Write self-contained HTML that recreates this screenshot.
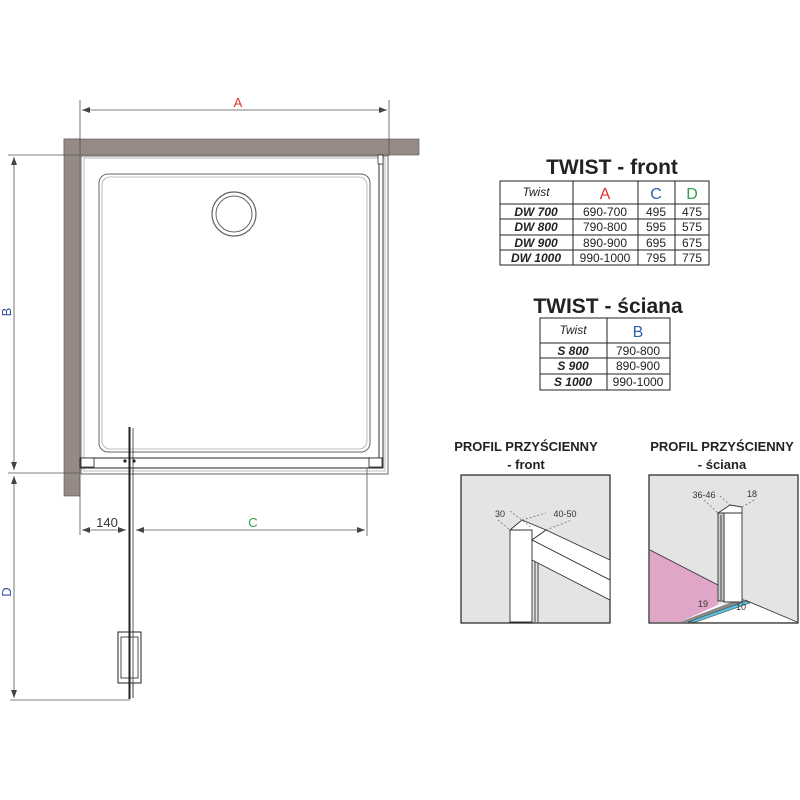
<!DOCTYPE html>
<html><head><meta charset="utf-8"><style>
body{margin:0;background:#fff;width:800px;height:800px;overflow:hidden}
svg{display:block}
text{font-family:"Liberation Sans",sans-serif}
</style></head><body>
<svg width="800" height="800" viewBox="0 0 800 800" xmlns="http://www.w3.org/2000/svg">
<defs>
<marker id="ar" markerWidth="8" markerHeight="6" refX="8" refY="3" orient="auto-start-reverse" markerUnits="userSpaceOnUse"><path d="M0,0 L8,3 L0,6z" fill="#444"/></marker>
</defs>
<rect x="64" y="139" width="355" height="16" fill="#958a86" stroke="#555" stroke-width="0.6"/>
<rect x="64" y="139" width="16" height="357" fill="#958a86" stroke="#555" stroke-width="0.6"/>
<rect x="81" y="156" width="307" height="318" fill="#fff" stroke="#666" stroke-width="1"/>
<rect x="84" y="158" width="301" height="313" fill="none" stroke="#aaa" stroke-width="0.8"/>
<rect x="99" y="174" width="271" height="278" rx="9" fill="none" stroke="#666" stroke-width="1"/>
<rect x="102" y="177" width="265" height="272" rx="8" fill="none" stroke="#aaa" stroke-width="0.8"/>
<circle cx="234" cy="214" r="22" fill="none" stroke="#666" stroke-width="1.2"/>
<circle cx="234" cy="214" r="18" fill="none" stroke="#666" stroke-width="1"/>
<rect x="379" y="155" width="4" height="306" fill="#fff" stroke="#333" stroke-width="1"/>
<rect x="378" y="155" width="5" height="9" fill="#fff" stroke="#333" stroke-width="0.8"/>
<rect x="80" y="458" width="303" height="10" fill="#fff" stroke="#222" stroke-width="1"/>
<rect x="81" y="458" width="13" height="9" fill="#fff" stroke="#222" stroke-width="0.8"/>
<rect x="369" y="458" width="13" height="9" fill="#fff" stroke="#222" stroke-width="0.8"/>
<rect x="128.5" y="427" width="2" height="272" fill="#222"/>
<line x1="133" y1="428" x2="133" y2="698" stroke="#333" stroke-width="0.8"/>
<circle cx="125" cy="461" r="1.6" fill="#222"/><circle cx="134" cy="461" r="1.6" fill="#222"/>
<rect x="118" y="632" width="23" height="51" fill="#fff" stroke="#222" stroke-width="1"/>
<rect x="121" y="637" width="17" height="41" fill="none" stroke="#222" stroke-width="0.8"/>
<rect x="128.5" y="632" width="2" height="66" fill="#222"/>
<line x1="133" y1="632" x2="133" y2="698" stroke="#333" stroke-width="0.8"/>
<g stroke="#555" stroke-width="0.8" fill="none">
<line x1="80" y1="100" x2="80" y2="156"/><line x1="389" y1="100" x2="389" y2="156"/>
<line x1="82" y1="110" x2="387" y2="110" marker-start="url(#ar)" marker-end="url(#ar)"/>
<line x1="8" y1="155" x2="80" y2="155"/><line x1="8" y1="473" x2="80" y2="473"/>
<line x1="14" y1="157" x2="14" y2="470" marker-start="url(#ar)" marker-end="url(#ar)"/>
<line x1="14" y1="476" x2="14" y2="698" marker-start="url(#ar)" marker-end="url(#ar)"/>
<line x1="10" y1="700" x2="130" y2="700"/>
<line x1="80" y1="475" x2="80" y2="535"/>
<line x1="367" y1="468" x2="367" y2="536"/>
<line x1="82" y1="530" x2="126" y2="530" marker-start="url(#ar)" marker-end="url(#ar)"/>
<line x1="136" y1="530" x2="365" y2="530" marker-start="url(#ar)" marker-end="url(#ar)"/>
</g>
<text x="238" y="107" font-size="13" fill="#e03030" text-anchor="middle">A</text>
<text x="253" y="527" font-size="13" fill="#30a050" text-anchor="middle">C</text>
<text x="107" y="527" font-size="13" fill="#333" text-anchor="middle">140</text>
<text transform="translate(11,312) rotate(-90)" font-size="13" fill="#3050a0" text-anchor="middle">B</text>
<text transform="translate(11,592) rotate(-90)" font-size="13" fill="#3050a0" text-anchor="middle">D</text>

<text x="612" y="174" font-size="21" font-weight="bold" fill="#222" text-anchor="middle">TWIST - front</text>
<g stroke="#222" stroke-width="1" fill="none">
<rect x="500" y="181" width="209" height="84"/>
<line x1="500" y1="204" x2="709" y2="204"/><line x1="500" y1="219" x2="709" y2="219"/><line x1="500" y1="235" x2="709" y2="235"/><line x1="500" y1="250" x2="709" y2="250"/>
<line x1="573" y1="181" x2="573" y2="265"/><line x1="638" y1="181" x2="638" y2="265"/><line x1="675" y1="181" x2="675" y2="265"/>
</g>
<g font-size="12" fill="#222" text-anchor="middle">
<text x="536" y="196" font-style="italic">Twist</text>
<text x="605" y="199" font-size="16" fill="#e03030">A</text>
<text x="656" y="199" font-size="16" fill="#3060b0">C</text>
<text x="692" y="199" font-size="16" fill="#30a050">D</text>
<g font-weight="bold" font-style="italic"><text x="536" y="216">DW 700</text><text x="536" y="231">DW 800</text><text x="536" y="247">DW 900</text><text x="536" y="262">DW 1000</text></g>
<text x="605" y="216">690-700</text><text x="605" y="231">790-800</text><text x="605" y="247">890-900</text><text x="605" y="262">990-1000</text>
<text x="656" y="216">495</text><text x="656" y="231">595</text><text x="656" y="247">695</text><text x="656" y="262">795</text>
<text x="692" y="216">475</text><text x="692" y="231">575</text><text x="692" y="247">675</text><text x="692" y="262">775</text>
</g>
<text x="608" y="313" font-size="21" font-weight="bold" fill="#222" text-anchor="middle">TWIST - ściana</text>
<g stroke="#222" stroke-width="1" fill="none">
<rect x="540" y="318" width="130" height="72"/>
<line x1="540" y1="343" x2="670" y2="343"/><line x1="540" y1="358" x2="670" y2="358"/><line x1="540" y1="374" x2="670" y2="374"/>
<line x1="607" y1="318" x2="607" y2="390"/>
</g>
<g font-size="12" fill="#222" text-anchor="middle">
<text x="573" y="334" font-style="italic">Twist</text>
<text x="638" y="337" font-size="16" fill="#3060b0">B</text>
<g font-weight="bold" font-style="italic"><text x="573" y="355">S 800</text><text x="573" y="370">S 900</text><text x="573" y="386">S 1000</text></g>
<text x="638" y="355">790-800</text><text x="638" y="370">890-900</text><text x="638" y="386">990-1000</text>
</g>

<text x="526" y="451" font-size="13" font-weight="bold" fill="#222" text-anchor="middle">PROFIL PRZYŚCIENNY</text>
<text x="526" y="469" font-size="13" font-weight="bold" fill="#222" text-anchor="middle">- front</text>
<rect x="461" y="475" width="149" height="148" fill="#e4e4e4" stroke="#222" stroke-width="1.2"/>
<g stroke="#333" stroke-width="0.9" fill="#fff">
<polygon points="510,530 532,530 532,622 510,622"/>
<polygon points="510,530 522,520 546,530 532,540 532,530"/>
<polygon points="532,540 546,530 610,560 610,580"/>
<polygon points="532,540 610,580 610,600 532,560"/>
<line x1="535" y1="562" x2="535" y2="622"/><line x1="538" y1="563" x2="538" y2="622"/>
</g>
<g stroke="#666" stroke-width="0.7" stroke-dasharray="2,2" fill="none">
<line x1="498" y1="520" x2="510" y2="530"/><line x1="510" y1="511" x2="532" y2="528"/>
<line x1="522" y1="520" x2="546" y2="513"/><line x1="546" y1="530" x2="572" y2="520"/>
</g>
<text x="500" y="517" font-size="9" fill="#333" text-anchor="middle">30</text>
<text x="565" y="517" font-size="9" fill="#333" text-anchor="middle">40-50</text>

<text x="722" y="451" font-size="13" font-weight="bold" fill="#222" text-anchor="middle">PROFIL PRZYŚCIENNY</text>
<text x="722" y="469" font-size="13" font-weight="bold" fill="#222" text-anchor="middle">- ściana</text>
<rect x="649" y="475" width="149" height="148" fill="#e4e4e4" stroke="#222" stroke-width="1.2"/>
<polygon points="650,550 718,585 718,605 680,622 650,622" fill="#e0a6c8"/>
<polygon points="745,600 797,622 680,622 718,605" fill="#fff"/>
<polygon points="680,622 742,598 746,601 688,622" fill="#888"/>
<polygon points="688,622 746,601 750,603 696,622" fill="#5bc0dc" stroke="#333" stroke-width="0.5"/>
<g stroke="#333" stroke-width="0.9" fill="#fff">
<line x1="650" y1="550" x2="718" y2="585"/>
<line x1="745" y1="600" x2="797" y2="622"/>
<polygon points="724,513 742,513 742,602 724,602"/>
<polygon points="718,513 724,513 724,601 718,601" fill="#ccc"/>
<polygon points="718,513 730,505 742,507 742,513 724,513"/>
<line x1="721" y1="515" x2="721" y2="600"/>
</g>
<g stroke="#666" stroke-width="0.7" stroke-dasharray="2,2" fill="none">
<line x1="704" y1="500" x2="718" y2="513"/><line x1="720" y1="496" x2="730" y2="505"/>
<line x1="742" y1="507" x2="756" y2="499"/>
</g>
<text x="704" y="498" font-size="9" fill="#333" text-anchor="middle">36-46</text>
<text x="752" y="497" font-size="9" fill="#333" text-anchor="middle">18</text>
<text x="703" y="607" font-size="9" fill="#333" text-anchor="middle">19</text>
<text x="741" y="610" font-size="9" fill="#333" text-anchor="middle">10</text>
</svg>
</body></html>
